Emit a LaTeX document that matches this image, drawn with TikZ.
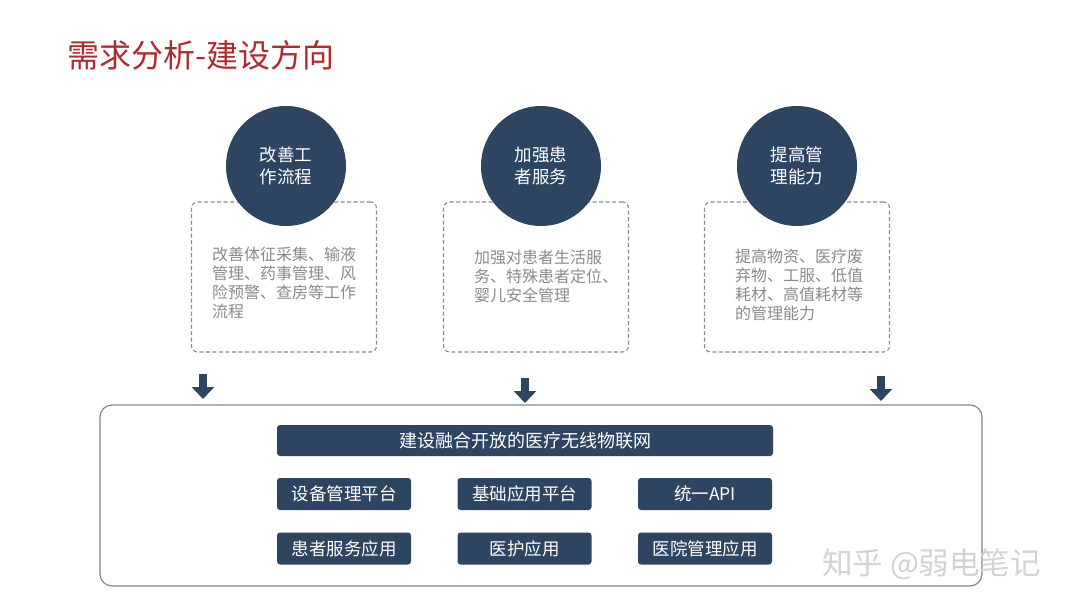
\documentclass[tikz,border=0pt]{standalone}
\usepackage{fontspec}
\setmainfont{Noto Sans CJK SC}
\usetikzlibrary{arrows.meta}
\definecolor{navy}{HTML}{2E4561}
\definecolor{titlered}{HTML}{B1282E}
\definecolor{notegray}{HTML}{8A8A8A}
\definecolor{framegray}{HTML}{7C8794}
\tikzstyle{goal}=[circle, fill=navy, text=white, minimum size=120pt, inner sep=0, align=center,
                  font=\fontsize{17.5}{22}\selectfont]
\tikzstyle{notebox}=[draw=notegray, line width=1.1pt, dash pattern=on 4pt off 2.5pt,
                     rounded corners=6pt, minimum width=185pt, minimum height=150pt]
\tikzstyle{notetext}=[text=notegray, align=left, inner sep=0, anchor=west,
                      font=\fontsize{16}{19}\selectfont]
\tikzstyle{module}=[fill=navy, text=white, rounded corners=3pt, minimum width=134pt,
                    minimum height=32pt, inner sep=0, font=\fontsize{17.5}{20}\selectfont]
\tikzstyle{flow}=[navy, line width=8.5pt, -{Triangle[width=22pt, length=12pt]}]
\begin{document}
\begin{tikzpicture}[x=1pt, y=-1pt]
        \useasboundingbox (0, 0) rectangle (1080, 608);
        % Title.
        \node[anchor=west, inner sep=0, text=titlered, font=\fontsize{32}{36}\selectfont]
            (title) at (67, 55) {需求分析-建设方向};
        % Dashed note boxes, behind the circles.
        \node[notebox] (N1) at (284, 277) {};
        \node[notebox] (N2) at (536, 277) {};
        \node[notebox] (N3) at (797, 277) {};
        \node[goal] (G1) at (286, 166) {改善工\\作流程};
        \node[goal] (G2) at (541, 166) {加强患\\者服务};
        \node[goal] (G3) at (797, 166) {提高管\\理能力};
        \node[notetext] (T1) at (212, 283) {改善体征采集、输液\\管理、药事管理、风\\险预警、查房等工作\\流程};
        \node[notetext] (T2) at (474, 276) {加强对患者生活服\\务、特殊患者定位、\\婴儿安全管理};
        \node[notetext] (T3) at (735, 285) {提高物资、医疗废\\弃物、工服、低值\\耗材、高值耗材等\\的管理能力};
        % Arrows into the platform frame.
        \coordinate (A1s) at (203, 374);
        \coordinate (A1e) at (203, 399);
        \coordinate (A2s) at (525, 378);
        \coordinate (A2e) at (525, 403);
        \coordinate (A3s) at (881, 376);
        \coordinate (A3e) at (881, 401);
        \draw[flow] (A1s) -- (A1e);
        \draw[flow] (A2s) -- (A2e);
        \draw[flow] (A3s) -- (A3e);
        % Platform frame.
        \node[draw=framegray, line width=1.2pt, rounded corners=12pt, minimum width=882pt,
              minimum height=181pt] (frame) at (541, 495.5) {};
        \node[module, minimum width=496pt, minimum height=31pt, font=\fontsize{18}{20}\selectfont]
            (net) at (525, 440.5) {建设融合开放的医疗无线物联网};
        \node[module] (M1) at (344, 494) {设备管理平台};
        \node[module] (M2) at (524.5, 494) {基础应用平台};
        \node[module] (M3) at (705, 494) {统一API};
        \node[module] (M4) at (344, 548.5) {患者服务应用};
        \node[module] (M5) at (524.5, 548.5) {医护应用};
        \node[module] (M6) at (705, 548.5) {医院管理应用};
        % Watermark.
        \node[anchor=west, inner sep=0, text=gray!35, font=\fontsize{30.5}{32}\selectfont]
            (mark) at (822, 564) {知乎 @弱电笔记};
    \end{tikzpicture}
\end{document}
